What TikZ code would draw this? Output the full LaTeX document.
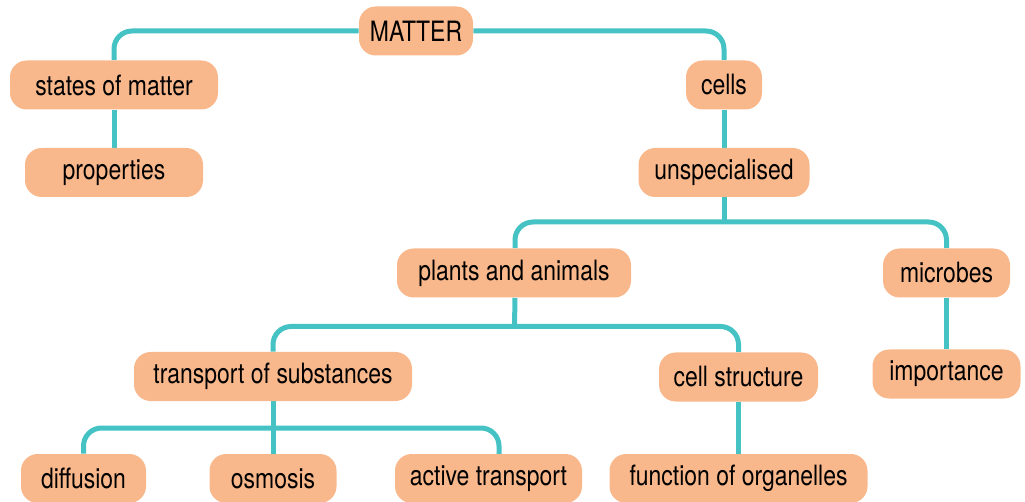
\documentclass[tikz,border=0pt]{standalone}
\usepackage{fontspec}
\setmainfont[FakeStretch=0.82]{TeX Gyre Heros}
\usetikzlibrary{backgrounds}
\definecolor{boxfill}{HTML}{F9B88C}
\definecolor{linkcol}{HTML}{45C2C4}
\begin{document}
\begin{tikzpicture}[x=0.75pt,y=-0.75pt,
  topic/.style={fill=boxfill,draw=none,rounded corners=12.5pt,minimum height=36.75pt,
    inner sep=0pt,font=\fontsize{21}{25}\selectfont,text=black,minimum width=#1*0.75pt},
  link/.style={draw=linkcol,line width=3.75pt,rounded corners=13.5pt}]
\useasboundingbox (0,0) rectangle (1025,502);
\node[topic=114] (matter) at (416,31) {MATTER};
\node[topic=208] (som) at (114,85) {states of matter};
\node[topic=178] (prop) at (114,172.5) {properties};
\node[topic=76] (cells) at (724,85) {cells};
\node[topic=171] (unsp) at (724,172.5) {unspecialised};
\node[topic=234] (pa) at (514,273) {plants and animals};
\node[topic=127] (mic) at (946.5,273) {microbes};
\node[topic=278] (tos) at (273,376.5) {transport of substances};
\node[topic=159] (cs) at (738.5,377) {cell structure};
\node[topic=148] (imp) at (946.5,374) {importance};
\node[topic=125] (diff) at (83.5,478.5) {diffusion};
\node[topic=127] (osm) at (273,478.5) {osmosis};
\node[topic=187] (act) at (488.5,478.5) {active transport};
\node[topic=258] (fo) at (738.5,478.5) {function of organelles};
\coordinate (j1) at (724,222);
\coordinate (j2) at (514.5,326.5);
\coordinate (j3) at (273,428);
\coordinate (actin) at (499,454);
\begin{scope}[on background layer]
\draw[link] (matter.west) -| (som.north);
\draw[link] (matter.east) -| (cells.north);
\draw[link] (som.south) -- (prop.north);
\draw[link] (cells.south) -- (unsp.north);
\draw[link] (unsp.south) -- (j1);
\draw[link] ([xshift=0.75pt]pa.north) |- (j1) -| (mic.north);
\draw[link] (mic.south) -- (imp.north);
\draw[link] ([xshift=0.75pt]pa.south) -- (j2);
\draw[link] (tos.north) |- (j2) -| (cs.north);
\draw[link] (cs.south) -- (fo.north);
\draw[link] (tos.south) -- (j3);
\draw[link] (diff.north) |- (j3) -| (actin);
\draw[link] (j3) -- (osm.north);
\end{scope}
\end{tikzpicture}
\end{document}
